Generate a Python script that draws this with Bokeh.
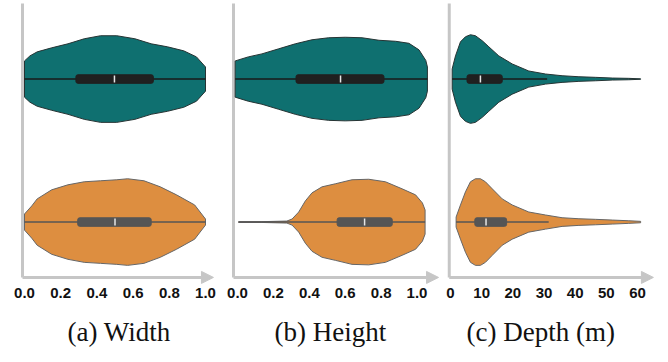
from bokeh.plotting import figure
from bokeh.layouts import row
from bokeh.models import Range1d, FixedTicker, Title, Arrow, NormalHead
from bokeh.embed import file_html
from bokeh.resources import INLINE

# ---------------- data ----------------
captions = ["(a) Width", "(b) Height", "(c) Depth (m)"]

width_ticks = [0.0, 0.2, 0.4, 0.6, 0.8, 1.0]
width_tick_labels = ["0.0", "0.2", "0.4", "0.6", "0.8", "1.0"]
height_ticks = [0.0, 0.2, 0.4, 0.6, 0.8, 1.0]
height_tick_labels = ["0.0", "0.2", "0.4", "0.6", "0.8", "1.0"]
depth_ticks = [0, 10, 20, 30, 40, 50, 60]
depth_tick_labels = ["0", "10", "20", "30", "40", "50", "60"]

# violin profiles: sample positions and relative density (half-width)
width_teal_x = [0.0, 0.03, 0.07, 0.15, 0.24, 0.33, 0.42, 0.51, 0.61, 0.70, 0.79, 0.88, 0.95, 1.0]
width_teal_d = [18, 23, 27, 31, 35, 40, 43, 43, 40, 35, 32, 28, 22, 12]
width_orange_x = [0.0, 0.04, 0.07, 0.15, 0.24, 0.33, 0.42, 0.51, 0.57, 0.66, 0.75, 0.84, 0.94, 1.0]
width_orange_d = [8, 16, 23, 32, 37, 40, 41, 42, 43, 41, 35, 27, 17, 3]

height_teal_x = [-0.013, 0.06, 0.136, 0.229, 0.322, 0.415, 0.508, 0.60, 0.694, 0.788, 0.881, 0.955, 1.011, 1.049, 1.058]
height_teal_d = [18, 22, 25, 30, 35, 39, 41, 41.5, 41, 38.5, 37.5, 35.5, 29, 18.5, 12]
height_orange_x = [0.006, 0.136, 0.275, 0.304, 0.341, 0.378, 0.415, 0.471, 0.545, 0.638, 0.731, 0.824, 0.917, 0.992, 1.03, 1.045]
height_orange_d = [0.4, 0.4, 1, 3, 10, 21, 29, 35, 38, 42, 42.5, 40, 33, 27, 19, 12]

depth_teal_x = [0.53, 1.6, 3.2, 4.8, 6.4, 8.0, 10.2, 12.3, 15.5, 19.8, 25.1, 30.5, 35.8, 41.2, 46.5, 51.9, 57.2, 61]
depth_teal_d = [10, 23, 37, 42, 44, 43, 38, 32, 23, 15, 8, 5, 3.3, 2.3, 1.7, 1.0, 0.7, 0.2]
depth_orange_x = [1.8, 3.2, 4.8, 6.4, 8.0, 9.6, 11.2, 13.4, 16.6, 19.8, 25.1, 30.5, 35.8, 41.2, 46.5, 51.9, 57.2, 61]
depth_orange_d = [5, 17, 30, 40, 43, 43, 40, 33, 23, 17, 10, 7, 4.3, 3.3, 2.7, 2.0, 1.3, 0.7]

# box statistics: [whisker low, q1, median, q3, whisker high]
width_teal_box = [0.0, 0.284, 0.497, 0.712, 1.0]
width_orange_box = [0.0, 0.294, 0.50, 0.70, 1.0]
height_teal_box = [-0.013, 0.326, 0.574, 0.816, 1.058]
height_orange_box = [0.006, 0.555, 0.708, 0.862, 1.045]
depth_teal_box = [0.53, 5.3, 9.6, 16.6, 31.0]
depth_orange_box = [1.8, 7.8, 11.4, 18.0, 31.5]

# ---------------- styling ----------------
TEAL = "#0f7070"
ORANGE = "#dd8e40"
TEAL_EDGE = "#263434"
ORANGE_EDGE = "#666666"
TEAL_BOX = "#202020"
ORANGE_BOX = "#555555"
AXIS_GRAY = "#c6c6c6"
PX_PER_Y = 142.0
Y_TEAL, Y_ORANGE = 1.0, 0.0
Y_RANGE = (-0.4366, 1.5493)
Y_AXIS = -0.387
Y_AXIS_TOP = 1.528
H = 360


def violin(p, xs, ds, yc, fill, edge, box, box_col, whisk_col):
    top = [yc + d / PX_PER_Y for d in ds]
    bot = [yc - d / PX_PER_Y for d in ds]
    p.patch(list(xs) + list(xs)[::-1], top + bot[::-1], fill_color=fill,
            line_color=edge, line_width=1)
    lo, q1, med, q3, hi = box
    p.segment(x0=[lo], y0=[yc], x1=[hi], y1=[yc], line_color=whisk_col, line_width=1.5)
    p.hbar(y=[yc], left=[q1], right=[q3], height=8.5 / PX_PER_Y, fill_color=box_col,
           line_color=box_col, border_radius=2)
    p.segment(x0=[med], y0=[yc - 3.5 / PX_PER_Y], x1=[med], y1=[yc + 3.5 / PX_PER_Y],
              line_color="#e6e6e6", line_width=1.5)


def panel(w, xr, yaxis_x, arrow_end, ticks, labels, caption, cap_offset, teal, orange):
    p = figure(width=w, height=H, x_range=Range1d(*xr), y_range=Range1d(*Y_RANGE),
               output_backend="svg", toolbar_location=None, y_axis_location=None,
               min_border=0, min_border_left=0, min_border_right=0,
               min_border_top=0, min_border_bottom=0)
    p.outline_line_color = None
    p.grid.visible = False
    p.background_fill_color = "white"
    p.border_fill_color = "white"

    ax = p.xaxis[0]
    ax.ticker = FixedTicker(ticks=ticks)
    ax.major_label_overrides = {t: l for t, l in zip(ticks, labels)}
    ax.axis_line_color = None
    ax.major_tick_line_color = None
    ax.minor_tick_line_color = None
    ax.major_label_standoff = -3
    ax.major_label_text_font = "Liberation Sans"
    ax.major_label_text_font_style = "bold"
    ax.major_label_text_font_size = "15px"
    ax.major_label_text_color = "#111111"

    # axis lines
    p.segment(x0=[yaxis_x], y0=[Y_AXIS], x1=[yaxis_x], y1=[Y_AXIS_TOP],
              line_color=AXIS_GRAY, line_width=3)
    p.add_layout(Arrow(end=NormalHead(size=12, fill_color=AXIS_GRAY, line_color=AXIS_GRAY),
                       x_start=yaxis_x, y_start=Y_AXIS, x_end=arrow_end, y_end=Y_AXIS,
                       line_color=AXIS_GRAY, line_width=3))

    violin(p, teal[0], teal[1], Y_TEAL, TEAL, TEAL_EDGE, teal[2], TEAL_BOX, "#1a1a1a")
    violin(p, orange[0], orange[1], Y_ORANGE, ORANGE, ORANGE_EDGE, orange[2], ORANGE_BOX, "#555555")

    p.add_layout(Title(text=caption, align="left", offset=cap_offset,
                       text_font="Liberation Serif",
                       text_font_size="27px", text_font_style="normal",
                       text_color="#111111", standoff=28), "below")
    return p


pa = panel(226, (-0.1326, 1.116), -0.011, 1.044, width_ticks, width_tick_labels, captions[0], 67,
           (width_teal_x, width_teal_d, width_teal_box),
           (width_orange_x, width_orange_d, width_orange_box))
pb = panel(216, (-0.0613, 1.142), -0.0223, 1.12, height_ticks, height_tick_labels, captions[1], 48,
           (height_teal_x, height_teal_d, height_teal_box),
           (height_orange_x, height_orange_d, height_orange_box))
pc = panel(226, (-2.567, 69.94), -0.4, 65.1, depth_ticks, depth_tick_labels, captions[2], 24,
           (depth_teal_x, depth_teal_d, depth_teal_box),
           (depth_orange_x, depth_orange_d, depth_orange_box))

layout = row(pa, pb, pc, spacing=0)
open("out.html", "w").write(file_html(layout, INLINE))
